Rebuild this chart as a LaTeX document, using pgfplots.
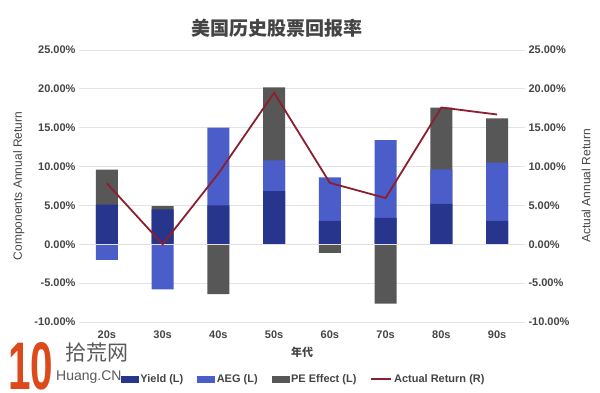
\documentclass[border=0pt]{standalone}
\usepackage{fontspec}
\setmainfont{Liberation Sans}
\newfontfamily\cjk{Noto Sans CJK SC}
\usepackage{graphicx}
\usepackage{pgfplots}
\pgfplotsset{compat=1.18}
\usepackage{pgfplotstable}
\definecolor{navyc}{HTML}{28358C}
\definecolor{aegc}{HTML}{4B5DC9}
\definecolor{pec}{HTML}{575757}
\definecolor{linec}{HTML}{8C1F2E}
\definecolor{txt}{HTML}{444444}
\definecolor{gridc}{HTML}{E3E3E3}
\definecolor{wmorange}{HTML}{DC4A1C}
% top of each drawn segment (painted back to front)
\pgfplotstableread{
x pe aeg yield actual
0 9.6 -2.0 5.1 7.85
1 4.9 -5.8 4.5 0.0
2 -6.4 15.0 5.0 9.1
3 20.2 10.8 6.85 19.5
4 -1.1 8.6 3.0 7.9
5 -7.65 13.4 3.4 5.95
6 17.6 9.65 5.2 17.6
7 16.2 10.5 3.0 16.7
}\datatable
\begin{document}
\begin{tikzpicture}[x=1pt,y=1pt]
\useasboundingbox (0pt,0pt) rectangle (600pt,393pt);
\pgfplotsset{
  every axis/.append style={
    at={(79pt,71pt)}, anchor=south west,
    scale only axis, width=446pt, height=272pt,
    xmin=-0.5, xmax=7.5, ymin=-10, ymax=25,
    ytick={-10,-5,...,25},
    major tick length=0pt,
    tick label style={font=\fontsize{11}{13}\selectfont\bfseries, text=txt},
    /pgf/number format/assume math mode=true,
    yticklabel={\pgfmathprintnumber[fixed,fixed zerofill,precision=2]{\tick}\%},
    label style={font=\fontsize{12}{14}\selectfont, text=txt},
  }
}
\begin{axis}[
  axis line style={draw=none},
  ymajorgrids, grid style={gridc, line width=0.9pt},
  xtick={0,...,7},
  xticklabels={20s,30s,40s,50s,60s,70s,80s,90s},
  xticklabel style={yshift=-5pt},
  xlabel={\cjk\bfseries 年代},
  xlabel style={at={(axis description cs:0.5,0)}, anchor=center, yshift=-30pt, font=\fontsize{11}{13}\selectfont},
  ylabel={Components Annual Return},
  ylabel style={at={(axis description cs:-0.135,0.5)}, anchor=center},
  ybar, bar width=22pt, bar shift=0pt,
  legend columns=4,
  legend style={at={(axis description cs:0.504,-0.21)}, anchor=center, draw=none, fill=none,
    font=\fontsize{11}{13}\selectfont\bfseries, text=txt,
    /tikz/every even column/.append style={column sep=12pt},
    nodes={inner xsep=2pt}},
]
\addplot[fill=pec, draw=none, forget plot] table[x=x, y=pe] {\datatable};
\addplot[fill=aegc, draw=none, forget plot] table[x=x, y=aeg] {\datatable};
\addplot[fill=navyc, draw=none, forget plot] table[x=x, y=yield] {\datatable};
\draw[white!88!black, line width=1pt] (axis cs:-0.5,0) -- (axis cs:7.5,0);
\addlegendimage{legend image code/.code={\fill[navyc] (0pt,-3pt) rectangle (17pt,3pt);}}
\addlegendentry{Yield (L)}
\addlegendimage{legend image code/.code={\fill[aegc] (0pt,-3pt) rectangle (17pt,3pt);}}
\addlegendentry{AEG (L)}
\addlegendimage{legend image code/.code={\fill[pec] (0pt,-3pt) rectangle (17pt,3pt);}}
\addlegendentry{PE Effect (L)}
\addlegendimage{legend image code/.code={\draw[linec, line width=1.6pt] (0pt,0pt) -- (20pt,0pt);}}
\addlegendentry{Actual Return (R)}
\end{axis}
\begin{axis}[
  axis y line*=right, axis x line=none,
  axis line style={draw=none},
  ylabel={Actual Annual Return},
  ylabel style={at={(axis description cs:1.137,0.5)}, anchor=center, rotate=0},
]
\addplot[linec, line width=1.8pt, mark=none] table[x=x, y=actual] {\datatable};
\end{axis}
\node[font=\cjk\bfseries\fontsize{19}{22}\selectfont, text=txt] at (277pt,365pt) {美国历史股票回报率};
% watermark
\node[text=wmorange, inner sep=0pt, anchor=south west] at (8pt,3pt) {\resizebox{45pt}{47pt}{\bfseries 10}};
\node[font=\cjk\fontsize{21}{24}\selectfont, text=black!65, inner sep=0pt, anchor=west] at (65pt,40pt) {拾荒网};
\node[font=\fontsize{14}{16}\selectfont, text=black!65, inner sep=0pt, anchor=west] at (56pt,16pt) {Huang.CN};
\end{tikzpicture}
\end{document}
